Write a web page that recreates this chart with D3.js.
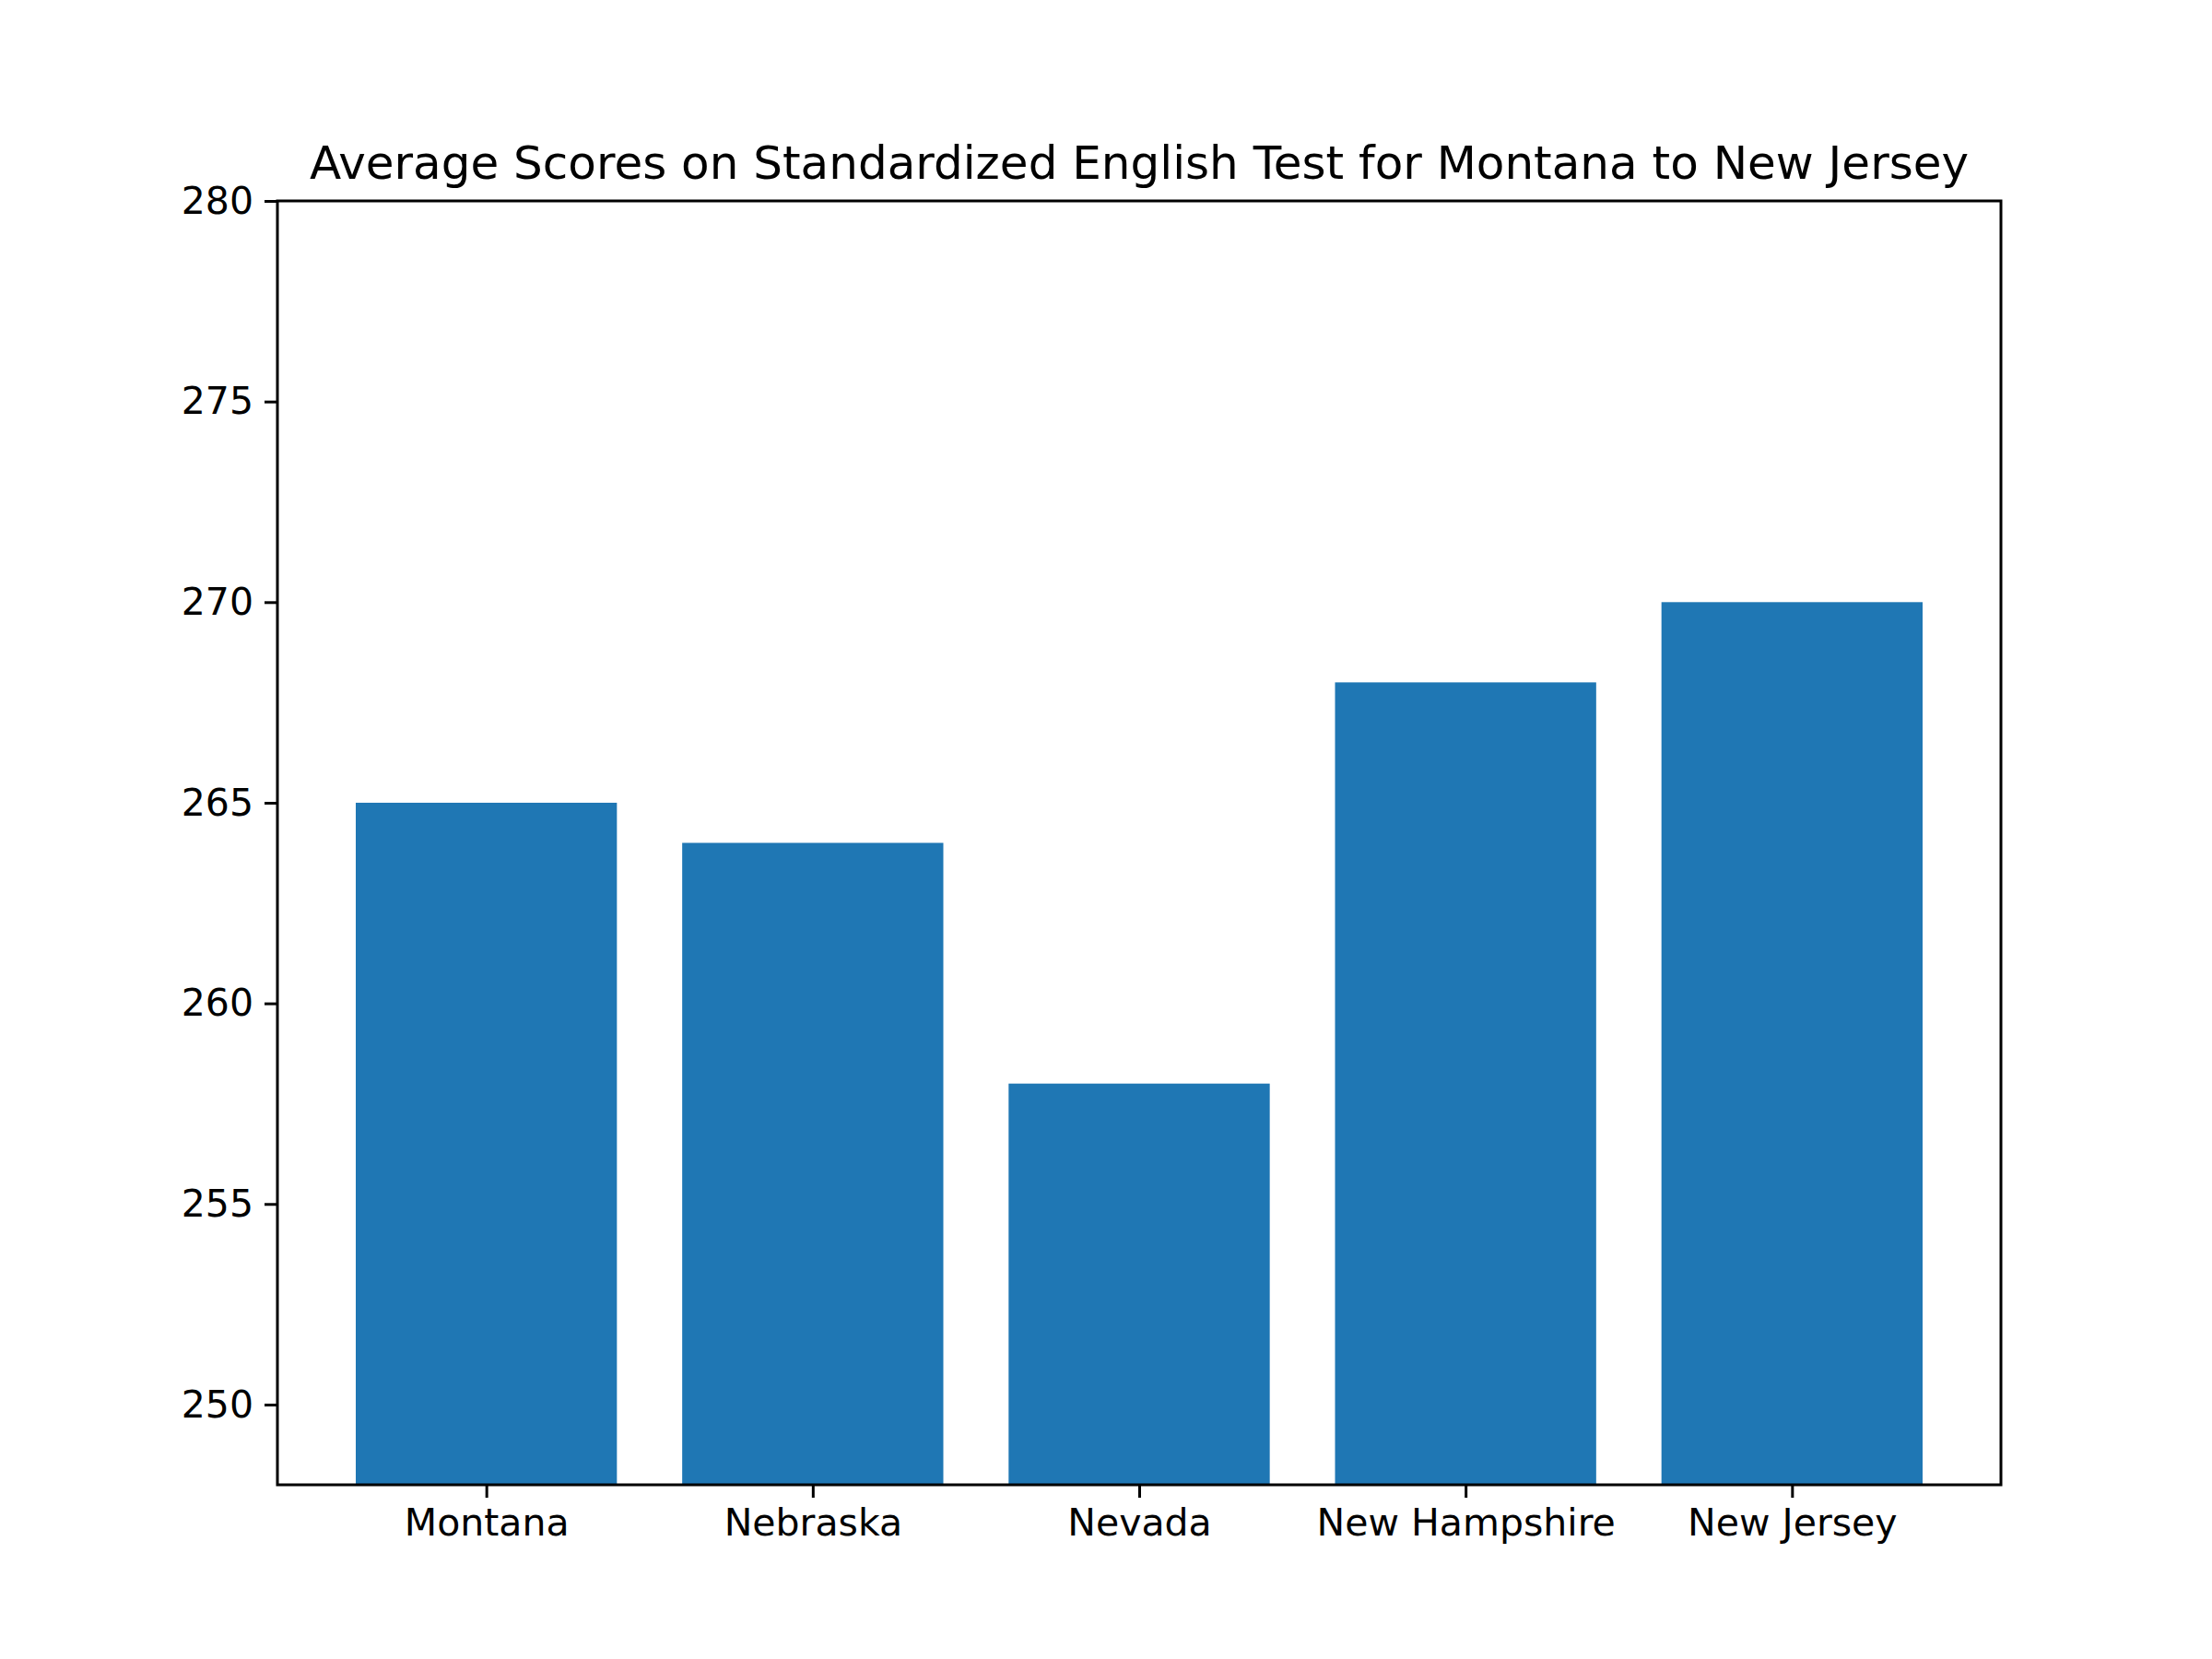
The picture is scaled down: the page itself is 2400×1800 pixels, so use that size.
<!DOCTYPE html>
<html>
<head>
<meta charset="utf-8">
<script src="https://cdn.jsdelivr.net/npm/d3@7"></script>
<style>body{margin:0;background:#fff;}</style>
</head>
<body>
<svg id="chart" width="2400" height="1800"></svg>
<script>
const states = ["Montana", "Nebraska", "Nevada", "New Hampshire", "New Jersey"];
const scores = [265, 264, 258, 268, 270];
const yTicks = [250, 255, 260, 265, 270, 275, 280];

const m = {left: 301, right: 2171, top: 218, bottom: 1611};
const svg = d3.select("#chart").style("font-family", "DejaVu Sans");

// bars are 0.8 wide, centred on integer positions like matplotlib
const x = d3.scaleLinear().domain([-0.64, 4.64]).range([m.left, m.right]);
const y = d3.scaleLinear().domain([248, 280]).range([m.bottom, m.top]);

svg.selectAll("rect.bar")
  .data(states)
  .enter()
  .append("rect")
    .attr("class", "bar")
    .attr("x", (d, i) => x(i - 0.4))
    .attr("width", (d, i) => x(i + 0.4) - x(i - 0.4))
    .attr("y", (d, i) => y(scores[i]))
    .attr("height", (d, i) => y(248) - y(scores[i]))
    .attr("fill", "#1f77b4");

const yAxis = svg.append("g")
    .attr("transform", `translate(${m.left},0)`)
    .call(d3.axisLeft(y).tickValues(yTicks).tickSize(14).tickPadding(12));
const xAxis = svg.append("g")
    .attr("transform", `translate(0,${m.bottom})`)
    .call(d3.axisBottom(x).tickValues(d3.range(states.length))
      .tickFormat(i => states[i]).tickSize(14).tickPadding(12));

[yAxis, xAxis].forEach(g => {
  g.select(".domain").remove();
  g.selectAll("line").attr("stroke", "#000").attr("stroke-width", 3);
  g.selectAll("text").attr("font-size", 41).attr("font-family", "DejaVu Sans").attr("fill", "#000");
});

svg.append("rect")
    .attr("x", m.left).attr("y", m.top)
    .attr("width", m.right - m.left).attr("height", m.bottom - m.top)
    .attr("fill", "none").attr("stroke", "#000").attr("stroke-width", 3);

svg.append("text")
    .attr("x", (m.left + m.right) / 2)
    .attr("y", m.top - 24)
    .attr("text-anchor", "middle")
    .attr("font-size", 50)
    .text("Average Scores on Standardized English Test for Montana to New Jersey");
</script>
</body>
</html>
